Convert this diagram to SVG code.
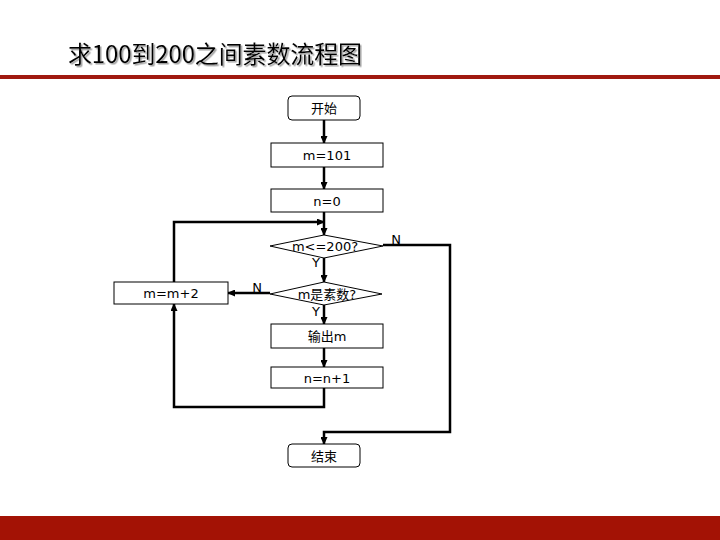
<svg xmlns="http://www.w3.org/2000/svg" width="720" height="540" viewBox="0 0 720 540">
<style>
.box{fill:#fff;stroke:#000;stroke-width:1}
.lbl{font-family:"DejaVu Sans","Noto Sans CJK SC",sans-serif;font-size:13px;fill:#000;text-anchor:middle}
.con{fill:none;stroke:#000;stroke-width:2.5;marker-end:url(#ah)}
.title{font-family:"Noto Sans CJK SC","Noto Sans",sans-serif;font-size:24px;fill:#000}
</style>
<defs>
<marker id="ah" markerWidth="8" markerHeight="7" refX="7" refY="3.5" orient="auto" markerUnits="userSpaceOnUse">
<path d="M0,0 L8,3.5 L0,7 Z" fill="#000"/>
</marker>
<filter id="sh" x="-5%" y="-20%" width="110%" height="140%">
<feDropShadow dx="1.5" dy="1.5" stdDeviation="0.6" flood-color="#888" flood-opacity="0.8"/>
</filter>
</defs>
<rect x="0" y="0" width="720" height="540" fill="#fff"/>
<g id="header">
<text class="title" x="68" y="63" textLength="294" lengthAdjust="spacing" filter="url(#sh)">求100到200之间素数流程图</text>
<rect x="0" y="75" width="720" height="4" fill="#a0190f"/>
<rect x="0" y="516" width="720" height="24" fill="#a31205"/>
</g>
<g id="connectors">
<path class="con" d="M324,120 L324,143"/>
<path class="con" d="M324,167 L324,189"/>
<path class="con" d="M324,212 L324,235"/>
<path class="con" d="M174,282 L174,222 L324,222"/>
<path class="con" d="M324,258 L324,282"/>
<path class="con" d="M270,293 L228,293"/>
<path class="con" d="M324,305 L324,324"/>
<path class="con" d="M324,348 L324,367"/>
<path class="con" d="M324,388 L324,407 L174,407 L174,304"/>
<path class="con" d="M383,245 L450,245 L450,432 L324,432 L324,444"/>
</g>
<g id="start">
<rect class="box" x="288" y="96" width="72" height="24" rx="4"/>
<text class="lbl" x="324" y="113">开始</text>
</g>
<g id="init_m">
<rect class="box" x="271" y="143" width="112" height="24"/>
<text class="lbl" x="327" y="160">m=101</text>
</g>
<g id="init_n">
<rect class="box" x="271" y="189" width="112" height="23"/>
<text class="lbl" x="327" y="206">n=0</text>
</g>
<g id="cond1">
<polygon class="box" points="270,246 324,235 383,246 324,258"/>
<text class="lbl" x="325" y="251">m&lt;=200?</text>
<text class="lbl" x="316" y="267">Y</text>
<text class="lbl" x="396" y="244">N</text>
</g>
<g id="cond2">
<polygon class="box" points="270,294 324,282 382,294 324,305"/>
<text class="lbl" x="327" y="299">m是素数?</text>
<text class="lbl" x="316" y="316">Y</text>
<text class="lbl" x="257" y="292">N</text>
</g>
<g id="inc_m">
<rect class="box" x="114" y="282" width="114" height="22"/>
<text class="lbl" x="171" y="298">m=m+2</text>
</g>
<g id="output">
<rect class="box" x="271" y="324" width="112" height="24"/>
<text class="lbl" x="327" y="341">输出m</text>
</g>
<g id="inc_n">
<rect class="box" x="271" y="367" width="112" height="21"/>
<text class="lbl" x="327" y="383">n=n+1</text>
</g>
<g id="end">
<rect class="box" x="288" y="444" width="72" height="23" rx="4"/>
<text class="lbl" x="324" y="461">结束</text>
</g>
</svg>
